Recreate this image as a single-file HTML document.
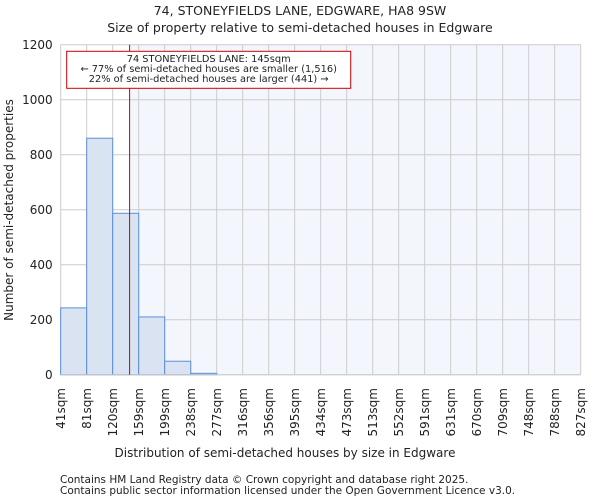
<!DOCTYPE html>
<html><head><meta charset="utf-8"><style>
body{margin:0;background:#fff;font-family:"DejaVu Sans","Liberation Sans",sans-serif;}
svg text{font-family:"DejaVu Sans","Liberation Sans",sans-serif;fill:#222;}
</style></head><body>
<svg width="600" height="500" viewBox="0 0 600 500" xmlns="http://www.w3.org/2000/svg">
<text x="300" y="15" text-anchor="middle" font-size="12.5">74, STONEYFIELDS LANE, EDGWARE, HA8 9SW</text>
<text x="300" y="32" text-anchor="middle" font-size="12.5">Size of property relative to semi-detached houses in Edgware</text>
<g id="plot"></g>
<text x="285" y="457" text-anchor="middle" font-size="12">Distribution of semi-detached houses by size in Edgware</text>
<text transform="translate(13,210) rotate(-90)" text-anchor="middle" font-size="12">Number of semi-detached properties</text>
<text x="60" y="483" font-size="10.5">Contains HM Land Registry data © Crown copyright and database right 2025.</text>
<text x="60" y="494" font-size="10.5">Contains public sector information licensed under the Open Government Licence v3.0.</text>
</svg>
<script>
const tickLabels=["41sqm","81sqm","120sqm","159sqm","199sqm","238sqm","277sqm","316sqm","356sqm","395sqm","434sqm","473sqm","513sqm","552sqm","591sqm","631sqm","670sqm","709sqm","748sqm","788sqm","827sqm"];
const counts=[243,860,587,210,49,5,0,0,0,0,0,0,0,0,0,0,0,0,0,0];
const yTicks=[0,200,400,600,800,1000,1200];
const markerBin=2.65;
const NS="http://www.w3.org/2000/svg";
const L=60.7,R=580.7,T=44.7,B=374.7,nb=counts.length;
const xs=i=>L+(R-L)*i/nb;
const ys=v=>B-(B-T)*v/1200;
const g=document.getElementById('plot');
function mk(t,a){const e=document.createElementNS(NS,t);for(const k in a)e.setAttribute(k,a[k]);g.appendChild(e);return e;}
let e=mk('rect',{x:L,y:T,width:R-L,height:B-T,fill:'#fff'});


const mx=xs(markerBin);
e=mk('rect',{x:mx,y:T,width:R-mx,height:B-T,fill:'#f3f6fd'});


yTicks.forEach(v=>{
 let l=mk('line',{x1:L,x2:R,y1:ys(v),y2:ys(v),stroke:'#cccccc','stroke-width':1});
 
 
 let t=mk('text',{x:L-8,y:ys(v)+4.5,'text-anchor':'end','font-size':12});
 t.textContent=v;
 
 
});
tickLabels.forEach((s,i)=>{
 const x=xs(i);
 let l=mk('line',{x1:x,x2:x,y1:T,y2:B,stroke:'#cccccc','stroke-width':1});
 
 
 let t=mk('text',{transform:`translate(${x+4.5},388) rotate(-90)`,'text-anchor':'end','font-size':12});
 t.textContent=s;
 
 
});
counts.forEach((c,i)=>{
 if(c<=0)return;
 let r=mk('rect',{x:xs(i),y:ys(c),width:xs(i+1)-xs(i),height:B-ys(c),fill:'#dae3f1',stroke:'#5b8fd6','stroke-width':1});
 
 
});
e=mk('line',{x1:L,x2:R,y1:B,y2:B,stroke:'#cccccc'});


e=mk('line',{x1:mx,x2:mx,y1:T,y2:B,stroke:'#cc0000','stroke-width':1});


e=mk('rect',{x:66.7,y:51.3,width:284,height:37,fill:'#fff',stroke:'#cc0000','stroke-width':1});


["74 STONEYFIELDS LANE: 145sqm","← 77% of semi-detached houses are smaller (1,516)","22% of semi-detached houses are larger (441) →"].forEach((s,i)=>{
 let t=mk('text',{x:208.7,y:62+i*10,'text-anchor':'middle','font-size':9.8});
 t.textContent=s;
 
 
});
</script>
</body></html>
